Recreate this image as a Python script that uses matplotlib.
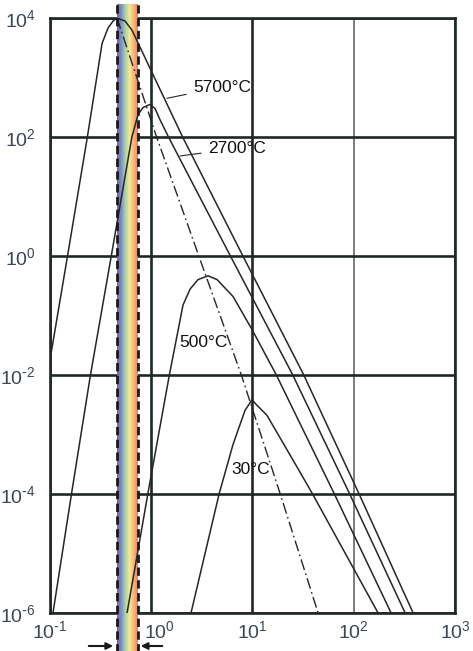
import numpy as np
import matplotlib
matplotlib.use('Agg')
import matplotlib.pyplot as plt
import matplotlib.transforms as mtransforms
from matplotlib.colors import LinearSegmentedColormap
from matplotlib.ticker import FixedLocator, FuncFormatter

plt.rcParams['font.family'] = ['Liberation Sans', 'DejaVu Sans']
plt.rcParams['mathtext.default'] = 'regular'

# curves: wavelength (um) and radiance
wl_5700 = [0.1, 0.149, 0.234, 0.327, 0.374, 0.42, 0.459, 0.551, 0.645, 2.04, 8.04, 32.1, 113, 386]
b_5700 = [0.018, 1, 100, 3740, 6760, 8890, 1e4, 8890, 6240, 100, 1, 1e-2, 1e-4, 1e-6]

wl_2700 = [0.107, 0.163, 0.251, 0.403, 0.644, 0.741, 0.830, 0.973, 1.09, 1.22, 1.48, 6.05, 25.0, 91.2, 322]
b_2700 = [1e-6, 1e-4, 1e-2, 1, 100, 238, 313, 352, 301, 195, 100, 1, 1e-2, 1e-4, 1e-6]

wl_500 = [0.577, 0.925, 1.51, 2.06, 2.42, 2.90, 3.64, 4.47, 6.43, 9.91, 17.2, 64.4, 234]
b_500 = [1e-6, 1e-4, 1e-2, 0.150, 0.278, 0.401, 0.464, 0.401, 0.208, 0.0578, 1e-2, 1e-4, 1e-6]

wl_30 = [2.47, 4.68, 6.43, 8.45, 9.91, 11.0, 13.9, 29.5, 39.2, 174]
b_30 = [1e-6, 1e-4, 6.84e-4, 2.56e-3, 3.83e-3, 3.13e-3, 2.10e-3, 2.32e-4, 1e-4, 1e-6]

# line through the peaks
wl_peak = [0.459, 1.13, 2.95, 7.76, 18.8, 44.5]
b_peak = [1e4, 100, 1, 1e-2, 1e-4, 1e-6]

visible = (0.459, 0.741)
x_ticks = [0.1, 1, 10, 100, 1000]
y_ticks = [1e-6, 1e-4, 1e-2, 1, 1e2, 1e4]

labels = ['5700°C', '2700°C', '500°C', '30°C']
label_pos = [(2.59, 690), (3.64, 64), (3.25, 0.0347), (9.68, 2.6e-4)]
leader_to = [(1.43, 447), (1.93, 48), None, None]

fig = plt.figure(figsize=(4.73, 6.51), dpi=100)
ax = fig.add_axes([0.1057, 0.0584, 0.8562, 0.914])
ax.set_xscale('log')
ax.set_yscale('log')
ax.set_xlim(0.1, 1000)
ax.set_ylim(1e-6, 1e4)


def sci(v, p):
    e = int(round(np.log10(v)))
    if e < 0:
        return r'$10^{\text{-}%d}$' % (-e)
    return r'$10^{%d}$' % e


grid_col = '#1e2828'
ax.xaxis.set_major_locator(FixedLocator(x_ticks))
ax.yaxis.set_major_locator(FixedLocator(y_ticks))
ax.xaxis.set_minor_locator(FixedLocator([]))
ax.yaxis.set_minor_locator(FixedLocator([]))
ax.xaxis.set_major_formatter(FuncFormatter(sci))
ax.yaxis.set_major_formatter(FuncFormatter(sci))
ax.tick_params(length=0, labelsize=14, labelcolor='#3a4654')
ax.tick_params(axis='x', pad=5)
ax.tick_params(axis='y', pad=10)
ax.set_axisbelow(True)
ax.grid(True, color=grid_col, lw=1.9)
ax.xaxis.get_gridlines()[3].set_linewidth(1.1)
ax.xaxis.get_gridlines()[3].set_color('#555a5a')
for s in ax.spines.values():
    s.set_linewidth(1.9)
    s.set_color(grid_col)

# the 10^0 label sits a little right of its line
lab = ax.get_xticklabels()[1]
lab.set_transform(lab.get_transform() + mtransforms.ScaledTranslation(0.08, 0, fig.dpi_scale_trans))

# rainbow band of visible light
cmap = LinearSegmentedColormap.from_list('vis', ['#6a66a6', '#7e90c8', '#a9d2a5', '#f6e897',
                                                 '#f5b878', '#ea806c'])
edges = np.logspace(np.log10(visible[0]), np.log10(visible[1]), 61)
for i in range(60):
    ax.axvspan(edges[i], edges[i + 1], ymin=-0.07, ymax=1.0235, color=cmap(i / 59),
               lw=0, zorder=3, clip_on=False)
for v in visible:
    ax.axvline(v, ymin=-0.07, ymax=1.0235, color='#1a1a1a', lw=2.0, ls=(0, (3, 1.6)),
               zorder=5, clip_on=False)

line_col = '#262626'
for wl, b in [(wl_5700, b_5700), (wl_2700, b_2700), (wl_500, b_500), (wl_30, b_30)]:
    ax.plot(wl, b, color=line_col, lw=1.1, zorder=4)
ax.plot(wl_peak, b_peak, color=line_col, lw=1.0, ls=(0, (8, 2.5, 1.2, 2.5)), zorder=4)

for txt, pos, to in zip(labels, label_pos, leader_to):
    if to is None:
        ax.text(pos[0], pos[1], txt, fontsize=12.5, ha='center', va='center', color='#111111', zorder=6)
    else:
        ax.annotate(txt, xy=to, xytext=pos, fontsize=12.5, ha='left', va='center', color='#111111',
                    zorder=6, arrowprops=dict(arrowstyle='-', color=line_col, lw=0.8,
                                              shrinkA=3, shrinkB=0))

# arrows pointing at the band below the axis
ax.annotate('', xy=(0.163, -0.0555), xytext=(0.089, -0.0555), xycoords='axes fraction',
            arrowprops=dict(arrowstyle='-|>', color='#1a1a1a', lw=1.5, mutation_scale=10),
            annotation_clip=False)
ax.annotate('', xy=(0.217, -0.0555), xytext=(0.284, -0.0555), xycoords='axes fraction',
            arrowprops=dict(arrowstyle='-|>', color='#1a1a1a', lw=1.5, mutation_scale=10),
            annotation_clip=False)

fig.savefig('out.png', dpi=100)
